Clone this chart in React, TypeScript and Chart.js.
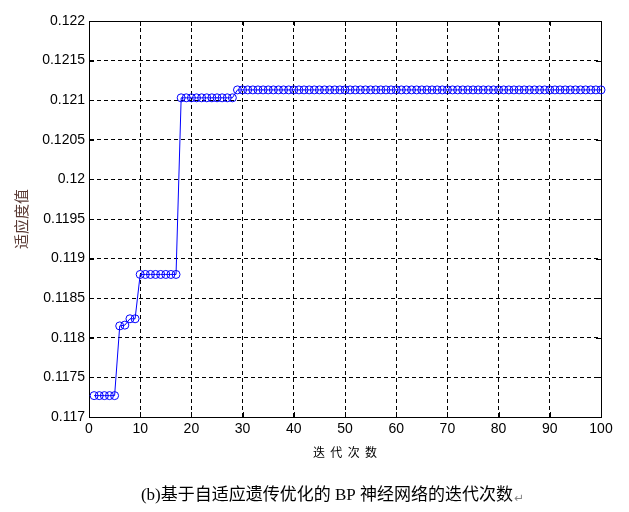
import React, { useEffect, useRef } from 'react';
import { Chart, registerables } from 'chart.js';

Chart.register(...registerables);

const iterations = [
  1, 2, 3, 4, 5, 6, 7, 8, 9, 10,
  11, 12, 13, 14, 15, 16, 17, 18, 19, 20,
  21, 22, 23, 24, 25, 26, 27, 28, 29, 30,
  31, 32, 33, 34, 35, 36, 37, 38, 39, 40,
  41, 42, 43, 44, 45, 46, 47, 48, 49, 50,
  51, 52, 53, 54, 55, 56, 57, 58, 59, 60,
  61, 62, 63, 64, 65, 66, 67, 68, 69, 70,
  71, 72, 73, 74, 75, 76, 77, 78, 79, 80,
  81, 82, 83, 84, 85, 86, 87, 88, 89, 90,
  91, 92, 93, 94, 95, 96, 97, 98, 99, 100,
];

const fitness = [
  0.11727, 0.11727, 0.11727, 0.11727, 0.11727, 0.11815, 0.11816, 0.11824, 0.11824, 0.1188,
  0.1188, 0.1188, 0.1188, 0.1188, 0.1188, 0.1188, 0.1188, 0.12103, 0.12103, 0.12103,
  0.12103, 0.12103, 0.12103, 0.12103, 0.12103, 0.12103, 0.12103, 0.12103, 0.12113, 0.12113,
  0.12113, 0.12113, 0.12113, 0.12113, 0.12113, 0.12113, 0.12113, 0.12113, 0.12113, 0.12113,
  0.12113, 0.12113, 0.12113, 0.12113, 0.12113, 0.12113, 0.12113, 0.12113, 0.12113, 0.12113,
  0.12113, 0.12113, 0.12113, 0.12113, 0.12113, 0.12113, 0.12113, 0.12113, 0.12113, 0.12113,
  0.12113, 0.12113, 0.12113, 0.12113, 0.12113, 0.12113, 0.12113, 0.12113, 0.12113, 0.12113,
  0.12113, 0.12113, 0.12113, 0.12113, 0.12113, 0.12113, 0.12113, 0.12113, 0.12113, 0.12113,
  0.12113, 0.12113, 0.12113, 0.12113, 0.12113, 0.12113, 0.12113, 0.12113, 0.12113, 0.12113,
  0.12113, 0.12113, 0.12113, 0.12113, 0.12113, 0.12113, 0.12113, 0.12113, 0.12113, 0.12113,
];

const xTicks = [0, 10, 20, 30, 40, 50, 60, 70, 80, 90, 100];
const yTicks = [0.117, 0.1175, 0.118, 0.1185, 0.119, 0.1195, 0.12, 0.1205, 0.121, 0.1215, 0.122];
const yTickLabels = ['0.117', '0.1175', '0.118', '0.1185', '0.119', '0.1195', '0.12', '0.1205', '0.121', '0.1215', '0.122'];
const xTitle = '迭  代  次  数';
const yTitle = '适应度值';
const caption = '(b)基于自适应遗传优化的 BP 神经网络的迭代次数';
const captionMark = '↵';

const framePlugin = {
  id: 'matlabFrame',
  beforeDatasetsDraw(chart: any) {
    const { ctx, chartArea } = chart;
    const { left, right, top, bottom } = chartArea;
    ctx.save();
    ctx.strokeStyle = '#000';
    ctx.lineWidth = 1;
    ctx.setLineDash([]);
    ctx.strokeRect(Math.round(left) + 0.5, Math.round(top) + 0.5, Math.round(right - left), Math.round(bottom - top));
    const xs = chart.scales.x;
    const ys = chart.scales.y;
    const tl = 5;
    ctx.beginPath();
    xTicks.forEach((v) => {
      const px = Math.round(xs.getPixelForValue(v)) + 0.5;
      ctx.moveTo(px, bottom);
      ctx.lineTo(px, bottom - tl);
      ctx.moveTo(px, top);
      ctx.lineTo(px, top + tl);
    });
    yTicks.forEach((v) => {
      const py = Math.round(ys.getPixelForValue(v)) + 0.5;
      ctx.moveTo(left, py);
      ctx.lineTo(left + tl, py);
      ctx.moveTo(right, py);
      ctx.lineTo(right - tl, py);
    });
    ctx.stroke();
    ctx.restore();
  },
  afterDraw(chart: any) {
    const { ctx } = chart;
    ctx.save();
    ctx.font = "17px 'Liberation Serif', 'Noto Sans CJK SC'";
    ctx.fillStyle = '#000';
    ctx.textBaseline = 'middle';
    ctx.textAlign = 'left';
    const w = ctx.measureText(caption).width;
    const x0 = 327 - w / 2;
    ctx.fillText(caption, x0, 496);
    ctx.font = "12px 'DejaVu Sans'";
    ctx.fillStyle = '#888';
    ctx.fillText(captionMark, x0 + w + 1, 499);
    ctx.restore();
  },
};

export default function App() {
  const ref = useRef<HTMLCanvasElement | null>(null);

  useEffect(() => {
    if (!ref.current) return;
    const chart = new Chart(ref.current, {
      type: 'line',
      data: {
        datasets: [
          {
            data: iterations.map((x, i) => ({ x, y: fitness[i] })),
            borderColor: '#0000ff',
            borderWidth: 1,
            backgroundColor: 'rgba(0,0,0,0)',
            pointStyle: 'circle',
            pointRadius: 4,
            pointBorderColor: '#0000ff',
            pointBorderWidth: 1,
            pointBackgroundColor: 'rgba(0,0,0,0)',
            tension: 0,
            fill: false,
            clip: false as any,
          },
        ],
      },
      options: {
        responsive: false,
        animation: false,
        layout: { padding: { left: 0, right: 28, top: 21, bottom: 50 } },
        plugins: {
          legend: { display: false },
          tooltip: { enabled: false },
          title: { display: false },
        },
        scales: {
          x: {
            type: 'linear',
            min: 0,
            max: 100,
            afterBuildTicks: (scale: any) => {
              scale.ticks = xTicks.map((v) => ({ value: v }));
            },
            afterFit: (scale: any) => {
              scale.height = 45;
            },
            ticks: {
              color: '#000',
              font: { family: "'Liberation Sans', Arial", size: 14 },
              padding: 4,
              maxRotation: 0,
              callback: (v: any) => String(v),
            },
            grid: {
              color: '#000',
              lineWidth: 1,
              drawTicks: false,
            },
            border: { display: true, color: '#000', width: 1, dash: [4, 3] },
            title: {
              display: true,
              text: xTitle,
              color: '#000',
              font: { family: "'Noto Sans CJK SC'", size: 12 },
              padding: { top: 0, bottom: 2 },
            },
          },
          y: {
            type: 'linear',
            min: 0.117,
            max: 0.122,
            afterBuildTicks: (scale: any) => {
              scale.ticks = yTicks.map((v) => ({ value: v }));
            },
            afterFit: (scale: any) => {
              scale.width = 89;
            },
            ticks: {
              color: '#000',
              font: { family: "'Liberation Sans', Arial", size: 14 },
              padding: 4,
              callback: (_v: any, i: number) => yTickLabels[i],
            },
            grid: {
              color: '#000',
              lineWidth: 1,
              drawTicks: false,
            },
            border: { display: true, color: '#000', width: 1, dash: [4, 3] },
            title: {
              display: true,
              text: yTitle,
              color: '#5a3a34',
              font: { family: "'Noto Sans CJK SC'", size: 15 },
              padding: { top: 12, bottom: 0 },
            },
          },
        },
      },
      plugins: [framePlugin],
    });
    return () => chart.destroy();
  }, []);

  return (
    <div style={{ position: 'fixed', left: 0, top: 0, width: 629, height: 512, background: '#fff' }}>
      <canvas ref={ref} width={629} height={512} style={{ display: 'block' }} />
    </div>
  );
}
